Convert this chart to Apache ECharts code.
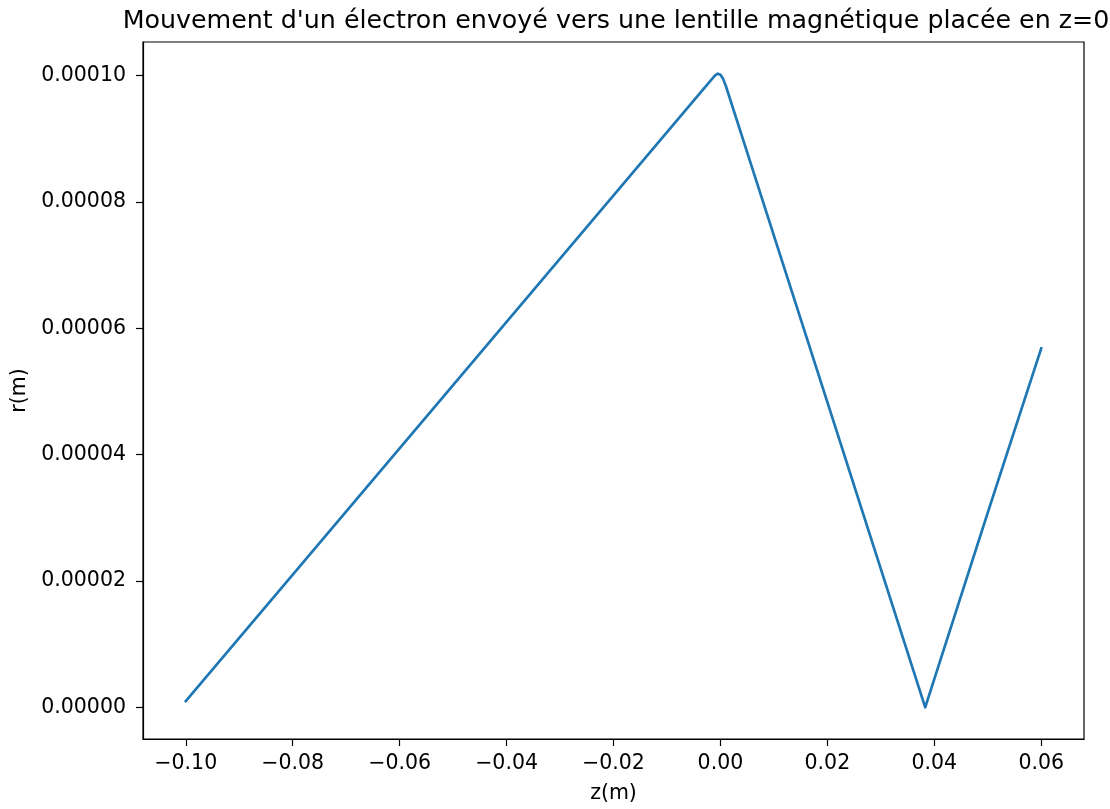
<!DOCTYPE html>
<html>
<head>
<meta charset="utf-8">
<title>Lentille magnétique</title>
<script src="https://cdn.jsdelivr.net/npm/echarts@6/dist/echarts.min.js"></script>
<style>
  html, body { margin: 0; padding: 0; background: #ffffff; }
  #chart { width: 1110px; height: 809px; }
</style>
</head>
<body>
<div id="chart"></div>
<script>
// Axial position z (m) of the electron and its distance r (m) from the axis
const zValues = [-0.1, -0.05, -0.002, -0.001, -0.0005, 0.0, 0.0005, 0.001, 0.002, 0.02, 0.0383, 0.05, 0.06];
const rValues = [1.0e-6, 5.1e-5, 9.9e-5, 1.0e-4, 1.00273e-4, 1.0009e-4, 9.9455e-5, 9.8365e-5, 9.573e-5, 4.83e-5, 0.0, 3.08e-5, 5.68e-5];

// Tick positions
const zTicks = [-0.10, -0.08, -0.06, -0.04, -0.02, 0.00, 0.02, 0.04, 0.06];
const rTicks = [0.0, 0.00002, 0.00004, 0.00006, 0.00008, 0.0001];

const titleText = "Mouvement d'un électron envoyé vers une lentille magnétique placée en z=0";
const zLabel = 'z(m)';
const rLabel = 'r(m)';

const FONT = 'DejaVu Sans';
const INK = '#000000';

const chart = echarts.init(document.getElementById('chart'), null, { renderer: 'canvas' });

const points = zValues.map((z, i) => [z, rValues[i]]);

function fmtZ(v) {
  const s = Math.abs(v).toFixed(2);
  return (v < -1e-12 ? '\u2212' : '') + s;
}
function fmtR(v) {
  return Math.abs(v).toFixed(5);
}

chart.setOption({
  animation: false,
  backgroundColor: '#ffffff',
  title: {
    text: titleText,
    left: 611,
    textAlign: 'center',
    top: 4,
    textStyle: { fontFamily: FONT, fontSize: 25.3, fontWeight: 'normal', color: INK }
  },
  grid: {
    left: 143, right: 26, top: 42, bottom: 66,
    show: true,
    borderColor: INK,
    borderWidth: 1.2,
    backgroundColor: 'transparent'
  },
  xAxis: {
    type: 'value',
    min: -0.108,
    max: 0.068,
    name: zLabel,
    nameLocation: 'middle',
    nameGap: 44,
    nameTextStyle: { fontFamily: FONT, fontSize: 20.5, color: INK },
    axisLine: { show: true, onZero: false, lineStyle: { color: INK, width: 1.2 } },
    axisTick: { show: true, length: 7, lineStyle: { color: INK, width: 1.2 }, customValues: zTicks },
    axisLabel: {
      show: true, margin: 14, fontFamily: FONT, fontSize: 20.5, color: INK,
      customValues: zTicks,
      formatter: fmtZ
    },
    splitLine: { show: false }
  },
  yAxis: {
    type: 'value',
    min: -5.014e-6,
    max: 1.0529e-4,
    name: rLabel,
    nameLocation: 'middle',
    nameGap: 110,
    nameRotate: 90,
    nameTextStyle: { fontFamily: FONT, fontSize: 20.5, color: INK },
    axisLine: { show: true, onZero: false, lineStyle: { color: INK, width: 1.2 } },
    axisTick: { show: true, length: 7, lineStyle: { color: INK, width: 1.2 }, customValues: rTicks },
    axisLabel: {
      show: true, margin: 17, fontFamily: FONT, fontSize: 20.5, color: INK,
      customValues: rTicks,
      formatter: fmtR
    },
    splitLine: { show: false }
  },
  series: [{
    type: 'line',
    data: points,
    showSymbol: false,
    symbol: 'none',
    smooth: false,
    clip: true,
    lineStyle: { color: '#1f77b4', width: 2.7, join: 'round', cap: 'square' }
  }]
});
</script>
</body>
</html>
